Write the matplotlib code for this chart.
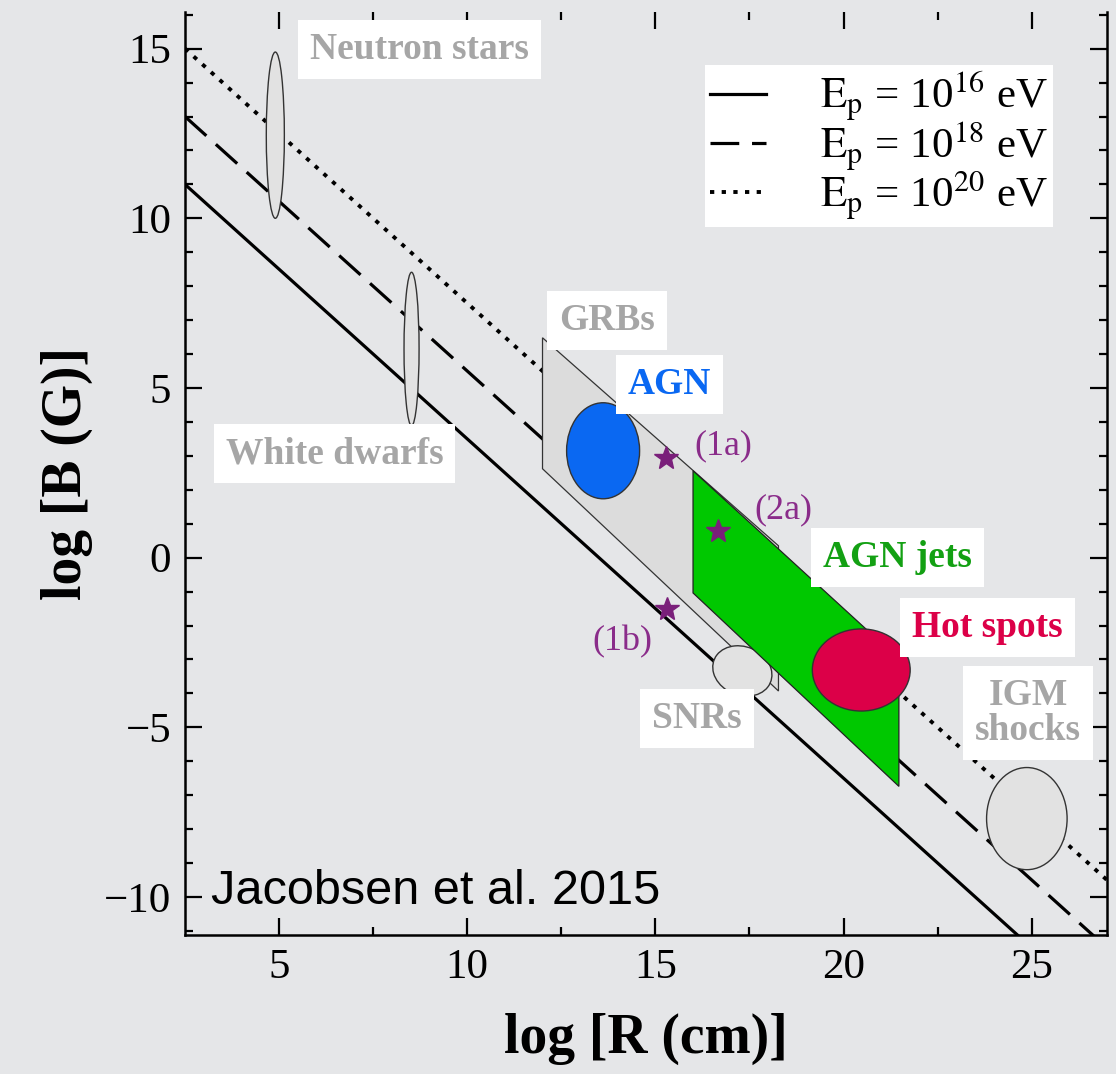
import matplotlib
matplotlib.use('Agg')
import matplotlib.pyplot as plt
import numpy as np
from matplotlib.patches import Ellipse, Polygon
from matplotlib.lines import Line2D

plt.rcParams['font.family'] = 'serif'
plt.rcParams['font.serif'] = ['Liberation Serif', 'DejaVu Serif']
plt.rcParams['mathtext.fontset'] = 'stix'

# Hillas lines: log B = C - log R
energies = [16, 18, 20]
hillas_const = [13.5, 15.5, 17.5]

# gray / coloured source ellipses (log R, log B)
ell_names = ['Neutron stars', 'White dwarfs', 'AGN', 'SNRs', 'Hot spots', 'IGM shocks']
ell_logR = [4.90, 8.52, 13.61, 17.31, 20.47, 24.87]
ell_logB = [12.45, 6.15, 3.15, -3.34, -3.31, -7.69]
ell_dR = [0.48, 0.40, 1.94, 1.65, 2.60, 2.14]
ell_dB = [4.90, 4.52, 2.83, 1.40, 2.42, 3.01]
ell_tilt = [0, 0, 0, -35, 0, 0]

# parallelogram regions
grb_R = [12.0, 18.27, 18.27, 12.0]
grb_B = [6.48, 0.35, -3.93, 2.62]
jet_R = [16.0, 21.47, 21.47, 16.0]
jet_B = [2.56, -2.99, -6.74, -1.04]

# stars
star_names = ['(1a)', '(2a)', '(1b)']
star_R = [15.27, 16.65, 15.30]
star_B = [2.94, 0.79, -1.51]
star_lab_R = [16.81, 18.40, 14.13]
star_lab_B = [3.30, 1.41, -2.47]

# boxed labels
lab_names = ['Neutron stars', 'White dwarfs', 'GRBs', 'AGN', 'AGN jets', 'Hot spots', 'IGM\nshocks', 'SNRs']
lab_R = [8.72, 6.47, 13.72, 15.38, 21.43, 23.83, 24.91, 16.11]
lab_B = [14.98, 3.06, 7.0, 5.09, 0.0, -2.05, -4.57, -4.75]

bg = '#e5e6e8'
gray_txt = '#a6a6a6'
blue = '#0a68f2'
green = '#00c800'
crimson = '#dc0048'
purple = '#7a1f7a'

fig = plt.figure(figsize=(11.16, 10.74), dpi=100, facecolor=bg)
ax = fig.add_axes([185/1116, 1-935/1074, (1107-185)/1116, (935-12)/1074])
ax.set_facecolor('none')

x = np.linspace(2.5, 27, 200)
styles = ['-', (0, (9, 4)), (0, (1.1, 1.9))]
widths = [2.3, 2.3, 2.8]
handles = []
for c, e, ls, lw in zip(hillas_const, energies, styles, widths):
    ax.plot(x, c - x, color='black', lw=lw, ls=ls, zorder=1)
    handles.append(Line2D([], [], color='black', lw=lw, ls=ls,
                          label=r'$\mathrm{E_p}$ = 10$^{%d}$ eV' % e))

ell_fc = {'AGN': blue, 'Hot spots': crimson}
ell_z = {'Neutron stars': 3, 'White dwarfs': 3, 'AGN': 4, 'SNRs': 3, 'Hot spots': 6, 'IGM shocks': 3}

ax.add_patch(Polygon(list(zip(grb_R, grb_B)), closed=True, fc='#dcdcdc', ec='#333333', lw=0.9, zorder=2))
ax.add_patch(Polygon(list(zip(jet_R, jet_B)), closed=True, fc=green, ec='#222222', lw=0.9, zorder=5))

for n, r, b, dr, db, t in zip(ell_names, ell_logR, ell_logB, ell_dR, ell_dB, ell_tilt):
    ax.add_patch(Ellipse((r, b), dr, db, angle=t, fc=ell_fc.get(n, '#e2e2e2'),
                         ec='#333333', lw=1.0, zorder=ell_z[n]))

ax.plot(star_R, star_B, ls='none', marker='*', ms=18, color=purple, zorder=7)
for n, r, b in zip(star_names, star_lab_R, star_lab_B):
    ax.text(r, b, n, color='#8a2c8a', fontsize=26, ha='center', va='center', zorder=8)

lab_col = {'AGN': blue, 'AGN jets': '#13a013', 'Hot spots': crimson}
for n, r, b in zip(lab_names, lab_R, lab_B):
    ax.text(r, b, n, color=lab_col.get(n, gray_txt), fontsize=27, fontweight='bold',
            ha='center', va='center', linespacing=1.0, zorder=9,
            bbox=dict(boxstyle='square,pad=0.32', fc='white', ec='none'))

ax.text(3.2, -10.2, 'Jacobsen et al. 2015', family='Liberation Sans', fontsize=35,
        color='black', ha='left', va='baseline', zorder=9)

leg = ax.legend(handles=handles, loc='upper right', bbox_to_anchor=(0.941, 0.943),
                fontsize=31, frameon=True, fancybox=False, handlelength=1.3,
                handletextpad=1.25, labelspacing=-0.12, borderpad=0.12, borderaxespad=0)
leg.get_frame().set_facecolor('white')
leg.get_frame().set_edgecolor('none')
leg.get_frame().set_alpha(1)
leg.set_zorder(10)

ax.set_xlim(2.5, 27)
ax.set_ylim(-11.12, 16.08)
ax.set_xticks([5, 10, 15, 20, 25])
ax.set_xticks(np.arange(7.5, 27, 5), minor=True)
ax.set_yticks([-10, -5, 0, 5, 10, 15])
ax.set_yticks([v for v in range(-11, 17) if v % 5 != 0], minor=True)
ax.tick_params(which='both', direction='in', top=True, right=True, width=1.6,
               labelsize=31, colors='black')
ax.tick_params(which='major', length=12, pad=10)
ax.tick_params(which='minor', length=6)
for s in ['left', 'bottom', 'right']:
    ax.spines[s].set_linewidth(1.8)
ax.spines['top'].set_visible(False)

ax.set_xlabel('log [R (cm)]', fontsize=40, fontweight='bold', labelpad=18)
ax.set_ylabel('log [B (G)]', fontsize=40, fontweight='bold', labelpad=8)

fig.savefig('out.png', dpi=100, facecolor=bg)
